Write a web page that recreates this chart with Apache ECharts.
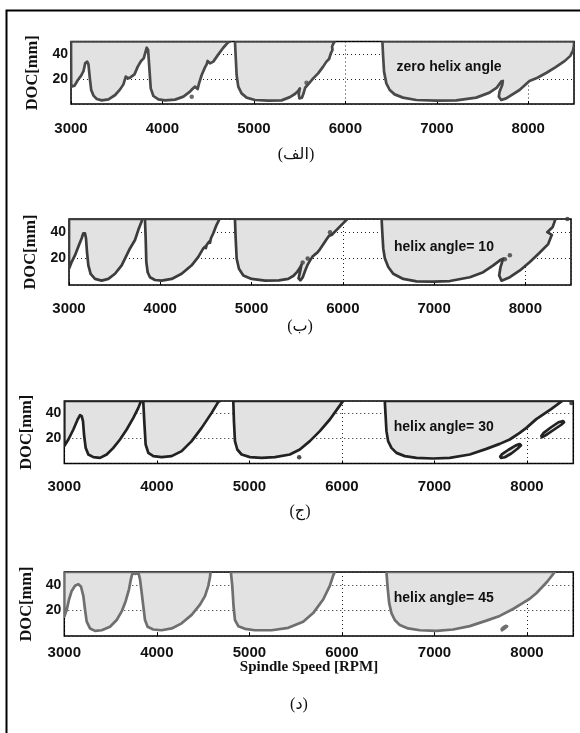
<!DOCTYPE html>
<html><head><meta charset="utf-8">
<script src="https://cdn.jsdelivr.net/npm/echarts@6/dist/echarts.min.js"></script>
<style>html,body{margin:0;padding:0;background:#fff}#c{width:580px;height:733px}</style>
</head><body><div id="c"></div>
<script>
// ---------- data (x = spindle speed [RPM], y = DOC [mm]) ----------
const xTicks = [3000, 4000, 5000, 6000, 7000, 8000];
const yTicks = [20, 40];
const panelTags = ['(الف)', '(ب)', '(ج)', '(د)'];
const panelNotes = ['zero helix angle', 'helix angle= 10', 'helix angle= 30', 'helix angle= 45'];

// Panel 1: zero helix angle
const p1LobeA = [[3000,50],[3002,13.9],[3039,14.7],[3075,19.2],[3111,22.7],[3137,26.4],[3155,32.5],[3177,33.9],[3191,31.7],[3206,20.5],[3221,11.2],[3246,6.7],[3282,4],[3337,2.9],[3410,3.7],[3483,7.2],[3537,11.7],[3573,15.7],[3599,21.9],[3621,20.5],[3646,21.1],[3694,23.7],[3730,29.9],[3766,34.4],[3795,36.5],[3810,40.5],[3828,45],[3843,43.2],[3857,28.5],[3872,12.5],[3901,6.4],[3956,3.7],[4028,2.9],[4138,3.5],[4229,5.9],[4301,9.9],[4327,12],[4356,13.9],[4385,12],[4400,16.5],[4429,23.2],[4465,29.3],[4483,31.7],[4494,34.4],[4520,32.5],[4556,33.9],[4611,39.7],[4665,45],[4720,49.5],[4738,50]];
const p1LobeB = [[4793,50],[4800,39.2],[4811,23.2],[4829,13.9],[4865,8.5],[4920,5.1],[5011,3.2],[5156,2.7],[5302,2.9],[5393,5.5],[5448,8],[5484,10.5],[5502,12.5],[5490,8],[5497,4.5],[5525,5],[5545,9],[5560,13],[5593,15.7],[5648,20.5],[5702,24.5],[5757,29.9],[5793,33.9],[5822,36],[5841,40.5],[5859,43.2],[5855,46],[5870,48.5],[5884,50]];
const p1LobeC = [[6405,50],[6412,39.2],[6423,25.9],[6448,16.5],[6485,11.2],[6539,7.7],[6630,5.1],[6776,3.2],[6994,2.7],[7213,2.9],[7431,5.1],[7576,9.1],[7656,13.1],[7704,17.9],[7722,18.4],[7715,15.2],[7686,9.9],[7678,5.9],[7704,3.2],[7758,4.5],[7904,11.2],[8013,18.4],[8100,21],[8200,25],[8300,29.5],[8400,34.5],[8460,38.5],[8490,43],[8500,47],[8500,50]];
const p1Dots = [[4320,5.9],[5575,17]];

// Panel 2: helix angle 10
const p2Lobe1 = [[3000,50],[3000,12.3],[3029,17.4],[3066,22.6],[3102,29],[3139,35.4],[3157,39.2],[3175,39.2],[3186,35.4],[3197,25.1],[3212,14.9],[3237,8.5],[3285,4.6],[3358,3.3],[3431,4.6],[3504,8.5],[3577,14.9],[3632,22.6],[3668,27.7],[3723,34.1],[3760,41.8],[3789,46.9],[3805,50]];
const p2Lobe2 = [[3832,50],[3840,35.4],[3847,17.4],[3862,9.7],[3887,5.9],[3942,3.8],[4015,3.3],[4125,4.6],[4234,8.5],[4344,14.9],[4417,21.3],[4471,27.7],[4490,29],[4500,28],[4508,30.3],[4534,32.8],[4545,32],[4555,35.4],[4581,39.2],[4617,45.6],[4650,50]];
const p2Lobe3 = [[4818,50],[4826,35.4],[4837,19.9],[4862,12.3],[4910,7.2],[5001,4.6],[5147,3.3],[5300,3.5],[5402,4.6],[5460,7],[5500,10],[5530,13],[5548,15.5],[5528,9],[5515,5],[5535,3.5],[5562,6],[5588,11],[5612,15],[5640,18.5],[5668,21.5],[5692,23],[5720,24.5],[5749,27],[5786,30.8],[5822,34.6],[5851,37.4],[5877,37.9],[5932,41.8],[6005,46.9],[6050,50]];
const p2Lobe4 = [[6425,50],[6432,40.5],[6443,27.7],[6461,20],[6498,13.6],[6552,8.5],[6662,4.6],[6808,2.8],[6991,2.6],[7173,3],[7392,5.9],[7538,9.7],[7648,14.9],[7721,18.7],[7757,20],[7728,13.6],[7713,7.2],[7739,3.3],[7830,5.9],[7940,11],[8049,17.4],[8150,24],[8250,31],[8290,38],[8240,40],[8300,44],[8330,50]];
const p2Dots = [[5860,40],[5615,20],[5560,17],[7830,22.6],[7775,19.5],[8460,50]];

// Panel 3: helix angle 30
const p3Lobe1 = [[3000,50],[3000,13.9],[3044,19.2],[3098,27.2],[3144,35.2],[3170,38.7],[3188,37.9],[3202,33.9],[3213,23.2],[3231,12.5],[3260,7.2],[3314,5.1],[3386,4.5],[3458,7.2],[3530,12.5],[3602,19.2],[3674,27.2],[3746,36.5],[3800,44.5],[3829,50]];
const p3Lobe2 = [[3843,50],[3854,48.5],[3864,33.9],[3879,15.2],[3908,8.5],[3962,5.9],[4052,5.1],[4160,5.9],[4268,9.9],[4376,17.9],[4484,28.5],[4592,40.5],[4664,49.3],[4682,50]];
const p3Lobe3 = [[4826,50],[4833,33.9],[4844,17.9],[4869,11.2],[4916,7.2],[5006,5.1],[5132,4.5],[5276,5.1],[5437,7.2],[5545,11.2],[5653,17.9],[5761,25.9],[5869,35.2],[5959,44.5],[6013,50]];
const p3Lobe4 = [[6463,50],[6471,39.2],[6481,25.9],[6499,17.9],[6535,12.5],[6589,8.5],[6679,5.9],[6805,4.5],[6985,4],[7165,4.5],[7381,7.2],[7561,11.7],[7705,15.7],[7813,19.2],[7921,24.5],[7993,28.5],[8100,35.5],[8260,43.5],[8380,50]];
const p3Isle1 = [[7720,4.5],[7760,5],[7830,8],[7900,12],[7935,14.5],[7920,15.5],[7880,14.5],[7800,11],[7730,7.5],[7710,5.5]];
const p3Isle2 = [[8160,21],[8200,22.5],[8290,27],[8370,31],[8400,33],[8390,34],[8340,33],[8260,29],[8180,24.5],[8155,22]];
const p3Dots = [[5538,5.1],[8480,48.5]];

// Panel 4: helix angle 45
const p4Lobe1 = [[3000,50],[3000,15.2],[3026,20.5],[3051,28.5],[3080,35.2],[3116,39.2],[3152,40.5],[3180,38.7],[3206,31.2],[3224,20.5],[3242,11.2],[3278,5.9],[3332,4],[3404,4.5],[3494,7.2],[3566,12.5],[3620,19.2],[3663,27.2],[3699,36.5],[3720,44.5],[3738,49.5],[3764,48.5],[3800,49.5],[3818,44.5],[3836,33.9],[3854,23.2],[3872,12.5],[3900,7.2],[3962,5.1],[4052,4.5],[4160,5.9],[4268,9.9],[4376,16.5],[4466,24.5],[4520,31.2],[4556,39.2],[4574,45.9],[4581,50]];
const p4Lobe2 = [[4800,50],[4815,39.2],[4829,23.2],[4844,12.5],[4880,7.7],[4952,5.6],[5060,4.5],[5240,4.5],[5420,6.4],[5581,11.2],[5689,17.9],[5797,28.5],[5869,39.2],[5905,47.2],[5923,50]];
const p4Lobe3 = [[6481,50],[6492,39.2],[6510,25.9],[6535,17.9],[6571,12.5],[6625,8.5],[6715,5.9],[6841,4.5],[7021,4],[7201,5.1],[7381,7.7],[7561,12],[7705,15.7],[7849,21.1],[7957,25.9],[8029,29.1],[8100,33.4],[8220,42.6],[8300,50]];
const p4Isle = [[7730,4.5],[7760,6],[7785,7.5],[7775,8],[7745,6.8],[7725,5.3]];

// ---------- chart ----------
const panels = [
  {shapes:[p1LobeA,p1LobeB,p1LobeC], dots:p1Dots, color:'#4a4a4a', grid:{left:71, top:41.5, width:503, height:62.5}, lm:17},
  {shapes:[p2Lobe1,p2Lobe2,p2Lobe3,p2Lobe4], dots:p2Dots, color:'#3c3c3c', grid:{left:69, top:219, width:502, height:66}, lm:16},
  {shapes:[p3Lobe1,p3Lobe2,p3Lobe3,p3Lobe4,p3Isle1,p3Isle2], dots:p3Dots, color:'#222222', grid:{left:64.3, top:401, width:509, height:62.5}, lm:16},
  {shapes:[p4Lobe1,p4Lobe2,p4Lobe3,p4Isle], dots:[], color:'#6f6f6f', grid:{left:64.3, top:572, width:509, height:64}, lm:9}
];
const FILL = '#e2e2e2';
const dotted = {color:'#222', width:1, type:[1,3]};

const grids = [], xAxes = [], yAxes = [], series = [];
panels.forEach((p, i) => {
  grids.push(Object.assign({show:true, borderColor:'#000', borderWidth:1.5, backgroundColor:'#fff'}, p.grid));
  xAxes.push({type:'value', gridIndex:i, min:3000, max:8500, interval:1000,
    axisLine:{show:false}, axisTick:{inside:true, length:3, lineStyle:{color:'#000'}},
    splitLine:{show:true, lineStyle:dotted},
    axisLabel:{showMaxLabel:false, margin:p.lm, color:'#111', fontFamily:'Liberation Sans, Arial', fontWeight:'bold', fontSize:15,
      formatter: v => xTicks.includes(v) ? String(v) : ''}});
  yAxes.push({type:'value', gridIndex:i, min:0, max:50, interval:20,
    axisLine:{show:false}, axisTick:{inside:true, length:3, lineStyle:{color:'#000'}},
    splitLine:{show:true, lineStyle:dotted},
    axisLabel:{showMinLabel:false, showMaxLabel:false, margin:3, color:'#111', fontFamily:'Liberation Sans, Arial', fontWeight:'bold', fontSize:14,
      formatter: v => yTicks.includes(v) ? String(v) : ''},
    name:'DOC[mm]', nameLocation:'middle', nameGap:25,
    nameTextStyle:{fontFamily:'Liberation Serif, Times New Roman', fontWeight:'bold', fontSize:16.5, color:'#111'}});
  const shapes = p.shapes;
  series.push({type:'custom', xAxisIndex:i, yAxisIndex:i, clip:true, z:3,
    data: shapes.map(s => s[1]),
    renderItem: (params, api) => ({
      type:'polygon',
      shape:{points: shapes[params.dataIndex].map(pt => api.coord(pt))},
      style:{fill:FILL, stroke:p.color, lineWidth:2.7, lineJoin:'round'}
    })});
  if (p.dots.length) series.push({type:'scatter', xAxisIndex:i, yAxisIndex:i, z:4, data:p.dots,
    symbolSize:4.5, itemStyle:{color:p.color}, silent:true});
});

const chart = echarts.init(document.getElementById('c'), null, {renderer:'canvas'});
const noteY = [29.8, 29, 28.8, 29.8];
const tagPos = [[296,155],[300,327],[300,512],[299,705]];
chart.setOption({
  animation:false,
  grid:grids, xAxis:xAxes, yAxis:yAxes, series:series
});
const gfx = [{type:'rect', shape:{x:6.5, y:10.5, width:620, height:800}, style:{fill:null, stroke:'#000', lineWidth:2}, z:10}];
panels.forEach((p, i) => {
  const pos = chart.convertToPixel({gridIndex:i}, [6560, noteY[i]]);
  gfx.push({type:'text', x:pos[0], y:pos[1], z:20, style:{text:panelNotes[i], fill:'#111', font:'bold 14px "Liberation Sans", Arial', textVerticalAlign:'middle', textAlign:'left'}});
  gfx.push({type:'text', x:tagPos[i][0], y:tagPos[i][1], z:20, style:{text:panelTags[i], fill:'#111', font:'16px "Liberation Serif", "DejaVu Serif", "DejaVu Sans", serif', textAlign:'center', textVerticalAlign:'middle'}});
});
gfx.push({type:'text', x:309, y:667, z:20, style:{text:'Spindle Speed [RPM]', fill:'#111', font:'bold 15px "Liberation Serif", "Times New Roman", serif', textAlign:'center', textVerticalAlign:'middle'}});
chart.setOption({graphic:{elements:gfx}});
</script></body></html>
